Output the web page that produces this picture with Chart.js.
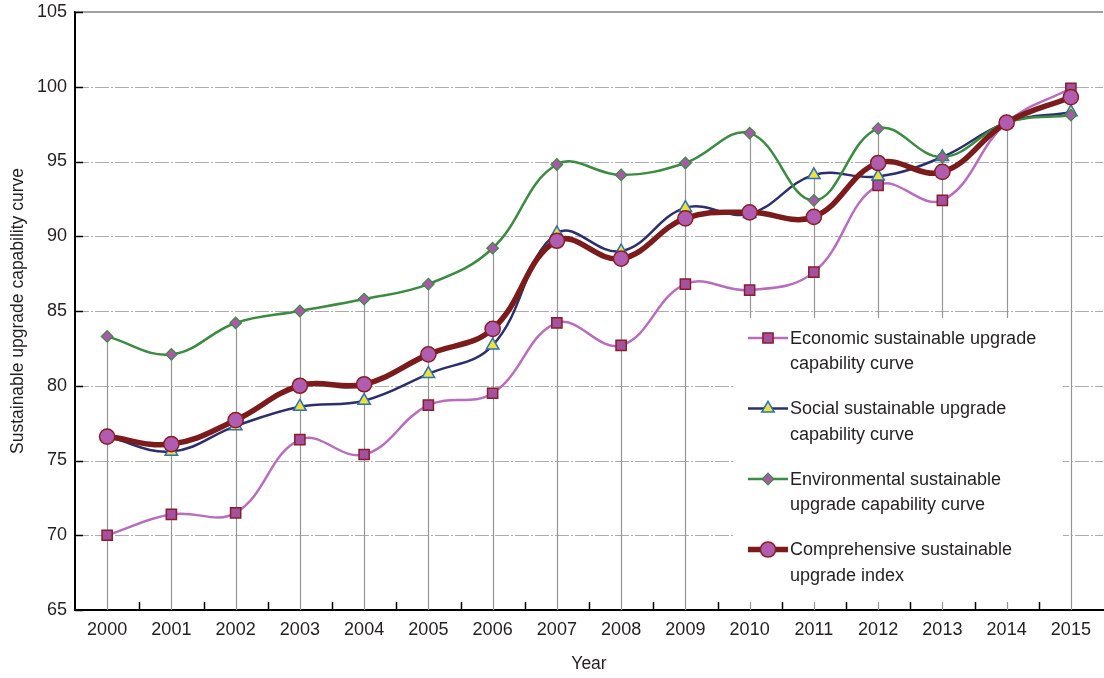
<!DOCTYPE html>
<html>
<head>
<meta charset="utf-8">
<title>Sustainable upgrade capability</title>
<script src="https://cdn.jsdelivr.net/npm/chart.js@4.4.1/dist/chart.umd.min.js"></script>
<style>
  html, body { margin: 0; padding: 0; background: #ffffff; }
  #wrap { width: 1104px; height: 678px; position: relative; }
</style>
</head>
<body>
<div id="wrap"><canvas id="chart"></canvas></div>
<script>
// Years on the horizontal axis
const years = ['2000','2001','2002','2003','2004','2005','2006','2007',
               '2008','2009','2010','2011','2012','2013','2014','2015'];

// Sustainable upgrade capability values per year
const economic      = [70.0, 71.4, 71.5, 76.4, 75.4, 78.7, 79.5, 84.2, 82.7, 86.8, 86.4, 87.6, 93.4, 92.4, 97.6, 99.9];
const social        = [76.6, 75.6, 77.3, 78.6, 79.0, 80.8, 82.7, 90.2, 89.0, 91.9, 91.5, 94.1, 94.0, 95.3, 97.6, 98.3];
const environmental = [83.3, 82.1, 84.2, 85.0, 85.8, 86.8, 89.2, 94.8, 94.1, 94.9, 96.9, 92.4, 97.2, 95.3, 97.6, 98.1];
const comprehensive = [76.6, 76.1, 77.7, 80.0, 80.1, 82.1, 83.8, 89.7, 88.5, 91.2, 91.6, 91.3, 94.9, 94.3, 97.6, 99.3];

// Value axis range and tick step
const yMin = 65, yMax = 105, yStep = 5;

const seriesLabels = [
  ['Economic sustainable upgrade', 'capability curve'],
  ['Social sustainable upgrade', 'capability curve'],
  ['Environmental sustainable', 'upgrade capability curve'],
  ['Comprehensive sustainable', 'upgrade index']
];

const FONT = "'Liberation Sans', Arial, Helvetica, sans-serif";
const TEXT = '#231f20';

const styles = [
  { line: '#b96dbf', width: 2.5, point: 'rect',     r: 7.2, fill: '#a4519f', edge: '#8a1d2c', edgeW: 1.5 },
  { line: '#2b2f6b', width: 2.5, point: 'triangle', r: 7.2, fill: '#ebe437', edge: '#2f6cc2', edgeW: 1.5 },
  { line: '#3b8b41', width: 2.5, point: 'rectRot',  r: 5.8, fill: '#a75aa8', edge: '#3b8b41', edgeW: 1.2 },
  { line: '#7c1b1b', width: 5.5, point: 'circle',   r: 7.6, fill: '#b05db1', edge: '#8a1f22', edgeW: 1.5 }
];
const seriesData = [economic, social, environmental, comprehensive];

function strokeLine(ctx, x1, y1, x2, y2) {
  ctx.beginPath(); ctx.moveTo(x1, y1); ctx.lineTo(x2, y2); ctx.stroke();
}

function drawMarker(ctx, s, cx, cy) {
  ctx.save();
  ctx.fillStyle = s.fill; ctx.strokeStyle = s.edge; ctx.lineWidth = s.edgeW;
  ctx.beginPath();
  if (s.point === 'rect') {
    const h = s.r * Math.SQRT1_2;
    ctx.rect(cx - h, cy - h, 2 * h, 2 * h);
  } else if (s.point === 'triangle') {
    for (let k = 0; k < 3; k++) {
      const a = k * 2 * Math.PI / 3;
      const px = cx + Math.sin(a) * s.r, py = cy - Math.cos(a) * s.r;
      k === 0 ? ctx.moveTo(px, py) : ctx.lineTo(px, py);
    }
    ctx.closePath();
  } else if (s.point === 'rectRot') {
    ctx.moveTo(cx - s.r, cy); ctx.lineTo(cx, cy - s.r);
    ctx.lineTo(cx + s.r, cy); ctx.lineTo(cx, cy + s.r); ctx.closePath();
  } else {
    ctx.arc(cx, cy, s.r, 0, Math.PI * 2);
  }
  ctx.fill(); ctx.stroke();
  ctx.restore();
}

// Grid, drop lines, inner tick marks and the legend panel
const decorPlugin = {
  id: 'decor',
  beforeDatasetsDraw(chart) {
    const { ctx, chartArea: a, scales: { x, y } } = chart;
    ctx.save();
    ctx.strokeStyle = '#ababab';
    ctx.lineWidth = 1;
    ctx.setLineDash([14, 2, 2, 2]);
    for (let v = yMin + yStep; v < yMax; v += yStep) {
      const py = Math.round(y.getPixelForValue(v)) + 0.5;
      strokeLine(ctx, a.left, py, a.right, py);
    }
    ctx.setLineDash([]);
    ctx.strokeStyle = '#808080';
    ctx.lineWidth = 1.5;
    const topY = y.getPixelForValue(yMax);
    strokeLine(ctx, a.left, topY, a.right, topY);

    // drop lines from the highest mark of each year to the axis
    ctx.strokeStyle = '#959595';
    ctx.lineWidth = 1.2;
    years.forEach((_, i) => {
      const top = Math.max(economic[i], social[i], environmental[i], comprehensive[i]);
      const px = Math.round(x.getPixelForValue(i)) + 0.5;
      strokeLine(ctx, px, y.getPixelForValue(top), px, a.bottom);
    });
    ctx.restore();
  },
  afterDatasetsDraw(chart) {
    const { ctx, chartArea: a, scales: { x, y } } = chart;
    ctx.save();
    // legend panel
    ctx.fillStyle = '#ffffff';
    ctx.fillRect(733, 318, 330, 284);
    seriesLabels.forEach((lines, i) => {
      const s = styles[i];
      const cy = 338 + i * 70.5;
      ctx.strokeStyle = s.line;
      ctx.lineWidth = s.width;
      strokeLine(ctx, 748, cy, 788, cy);
      drawMarker(ctx, s, 768, cy);
      ctx.fillStyle = TEXT;
      ctx.font = '18px ' + FONT;
      ctx.textAlign = 'left';
      ctx.textBaseline = 'middle';
      ctx.fillText(lines[0], 790, cy + 1);
      ctx.fillText(lines[1], 790, cy + 26.5);
    });

    // inner tick marks
    ctx.strokeStyle = '#000000';
    ctx.lineWidth = 1.5;
    for (let v = yMin; v <= yMax; v += yStep) {
      const py = Math.round(y.getPixelForValue(v)) + 0.5;
      strokeLine(ctx, a.left, py, a.left + 8, py);
    }
    const half = (x.getPixelForValue(1) - x.getPixelForValue(0)) / 2;
    for (let i = 1; i < years.length; i++) {
      const px = Math.round(x.getPixelForValue(i) - half) + 0.5;
      strokeLine(ctx, px, a.bottom - 8, px, a.bottom);
    }
    ctx.restore();
  }
};

const datasets = seriesData.map((d, i) => {
  const s = styles[i];
  return {
    label: seriesLabels[i].join(' '),
    data: d,
    borderColor: s.line,
    borderWidth: s.width,
    pointStyle: s.point,
    pointRadius: s.r,
    pointHoverRadius: s.r,
    pointBackgroundColor: s.fill,
    pointBorderColor: s.edge,
    pointBorderWidth: s.edgeW,
    tension: 0.4,
    fill: false,
    clip: false,
    order: [3, 2, 1, 0][i]
  };
});

new Chart(document.getElementById('chart'), {
  type: 'line',
  data: { labels: years, datasets },
  plugins: [decorPlugin],
  options: {
    responsive: true,
    maintainAspectRatio: false,
    animation: false,
    layout: { autoPadding: false, padding: { top: 12, right: 1, left: 0, bottom: 0 } },
    plugins: {
      legend: { display: false },
      tooltip: { enabled: false }
    },
    scales: {
      x: {
        type: 'category',
        offset: true,
        grid: { display: false, drawTicks: false },
        border: { display: true, color: '#000000', width: 2 },
        ticks: { color: TEXT, font: { family: FONT, size: 18 }, padding: 9, maxRotation: 0, autoSkip: false },
        title: { display: true, text: 'Year', color: TEXT, font: { family: FONT, size: 17.5 }, padding: { top: 0, bottom: 3 } },
        afterFit(scale) { scale.height = 68; scale.paddingLeft = 0; scale.paddingRight = 0; }
      },
      y: {
        type: 'linear',
        min: yMin,
        max: yMax,
        grid: { display: false, drawTicks: false },
        border: { display: true, color: '#000000', width: 2 },
        ticks: { stepSize: yStep, color: TEXT, font: { family: FONT, size: 18 }, padding: 8 },
        title: { display: true, text: 'Sustainable upgrade capability curve', color: TEXT, font: { family: FONT, size: 17.5 }, padding: { top: 8, bottom: 0 } },
        afterFit(scale) { scale.width = 75; scale.paddingTop = 0; scale.paddingBottom = 0; }
      }
    }
  }
});
</script>
</body>
</html>
